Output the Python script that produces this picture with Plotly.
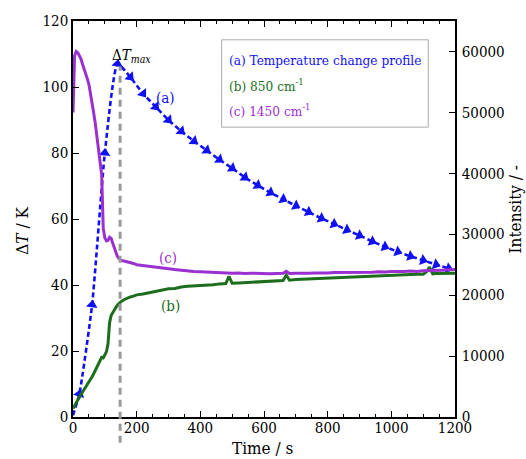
import plotly.graph_objects as go

# (a) temperature change profile, one marker every 40 s
time_a = [0, 20, 60, 100, 140, 180, 220, 260, 300, 340, 380, 420, 460, 500, 540,
          580, 620, 660, 700, 740, 780, 820, 860, 900, 940, 980, 1020, 1060, 1100,
          1140, 1180]
delta_t = [0.5, 7, 34, 80, 107, 103, 98, 94, 90, 86.6, 83.6, 80.8, 78, 75.4, 72.6,
           70.2, 68, 66, 64, 62.1, 60.2, 58.5, 56.7, 55, 53.2, 51.6, 50.1, 48.7, 47.5,
           46.2, 45]

# Raman band intensities (b) 850 cm-1 and (c) 1450 cm-1
time_b_c = [0, 5, 10, 15, 20, 25, 30, 35, 40, 45,
            50, 55, 60, 65, 70, 75, 80, 85, 90, 95,
            100, 105, 110, 115, 120, 125, 130, 135, 140, 145,
            150, 160, 170, 180, 190, 200, 220, 240, 260, 280,
            300, 320, 340, 360, 380, 400, 420, 440, 460, 480,
            490, 500, 520, 540, 560, 580, 600, 620, 640, 660,
            670, 680, 700, 720, 740, 760, 780, 800, 820, 840,
            860, 880, 900, 920, 940, 960, 980, 1000, 1020, 1040,
            1060, 1080, 1100, 1110, 1120, 1130, 1140, 1160, 1180, 1200]
intensity_1450 = [50000, 59300, 60000, 59800, 59300, 58800, 57900, 57200, 56400, 55500,
                  54600, 53200, 51600, 49900, 48200, 46100, 43900, 41900, 39800, 31000,
                  29400, 28900, 29000, 29500, 29300, 28500, 27900, 27000, 26300, 25900,
                  25700, 25600, 25500, 25400, 25200, 25000, 24850, 24750, 24650, 24500,
                  24350, 24200, 24100, 23950, 23900, 23850, 23800, 23700, 23750, 23650,
                  23700, 23600, 23650, 23550, 23600, 23550, 23600, 23500, 23550, 23600,
                  23900, 23550, 23600, 23550, 23600, 23650, 23600, 23650, 23700, 23700,
                  23750, 23700, 23800, 23800, 23750, 23850, 23800, 23900, 23850, 23900,
                  23950, 23900, 24000, 24000, 24050, 24000, 24100, 24100, 24150, 24200]
intensity_850 = [1400, 1900, 2400, 2900, 3300, 3700, 4100, 4500, 4900, 5200,
                 5700, 6100, 6600, 7100, 7700, 8200, 8700, 9300, 9800, 9700,
                 10100, 10700, 12000, 15500, 16700, 17200, 17600, 18000, 18400, 18700,
                 18900, 19250, 19500, 19700, 19850, 20050, 20200, 20400, 20700, 20800,
                 21050, 21100, 21350, 21450, 21500, 21550, 21650, 21700, 21850, 21900,
                 23100, 21950, 22000, 22050, 22100, 22150, 22250, 22300, 22350, 22400,
                 23300, 22450, 22550, 22600, 22650, 22700, 22750, 22800, 22850, 22900,
                 22950, 23000, 23000, 23100, 23150, 23200, 23250, 23350, 23300, 23350,
                 23400, 23450, 23450, 23800, 24600, 23500, 23550, 23600, 23650, 23600]

t_max_time = 148  # time of maximum temperature rise

BLUE = "#1010F5"
GREEN = "#1C6E1C"
PURPLE = "#9B30D0"
SERIF = "DejaVu Serif Condensed, DejaVu Serif"

fig = go.Figure()

fig.add_trace(go.Scatter(
    x=time_b_c, y=intensity_850, yaxis="y2", mode="lines",
    line=dict(color=GREEN, width=3), showlegend=False))
fig.add_trace(go.Scatter(
    x=time_b_c, y=intensity_1450, yaxis="y2", mode="lines",
    line=dict(color=PURPLE, width=3), showlegend=False))
fig.add_trace(go.Scatter(
    x=time_a, y=delta_t, mode="lines+markers",
    line=dict(color=BLUE, width=2.6, dash="5px,3px", shape="spline", smoothing=0.5),
    marker=dict(symbol="triangle-up", size=10, color=BLUE, angleref="previous"),
    showlegend=False))

# vertical marker at the temperature maximum, running below the time axis
fig.add_shape(type="line", xref="x", yref="paper",
              x0=t_max_time, x1=t_max_time, y0=-0.065, y1=0.885,
              line=dict(color="#9A9A9A", width=3, dash="7px,5px"), layer="above")

# legend box
fig.add_shape(type="rect", xref="paper", yref="paper",
              x0=0.389, x1=0.930, y0=0.732, y1=0.9525,
              line=dict(color="#AAAAAA", width=1), fillcolor="white", layer="below")

legend_rows = [
    ("(a) Temperature change profile", BLUE, 0.9008),
    ("(b) 850 cm<sup>-1</sup>", GREEN, 0.8383),
    ("(c) 1450 cm<sup>-1</sup>", PURPLE, 0.7758),
]
for text, color, ypos in legend_rows:
    fig.add_annotation(xref="paper", yref="paper", x=0.402, y=ypos,
                       xanchor="left", yanchor="middle", text=text, showarrow=False,
                       font=dict(family=SERIF, size=13.5, color=color))

# curve labels
for text, color, xv, yv in [("(a)", BLUE, 289, 96.6), ("(c)", PURPLE, 299, 48.3),
                            ("(b)", GREEN, 305, 33.6)]:
    fig.add_annotation(x=xv, y=yv, text=text, showarrow=False,
                       xanchor="center", yanchor="middle",
                       font=dict(family=SERIF, size=15, color=color))

fig.add_annotation(x=115, y=109.6, xanchor="left", yanchor="middle",
                   text="Δ<i>T</i><sub><i>max</i></sub>", showarrow=False,
                   font=dict(family=SERIF, size=15, color="black"))

# axis titles
fig.add_annotation(xref="paper", yref="paper", x=0.497, y=-0.078,
                   xanchor="center", yanchor="middle",
                   text="Time / s", showarrow=False,
                   font=dict(family=SERIF, size=17, color="black"))
fig.add_annotation(xref="paper", yref="paper", x=-0.134, y=0.47, textangle=-90,
                   xanchor="center", yanchor="middle",
                   text="Δ<i>T</i> / K", showarrow=False,
                   font=dict(family=SERIF, size=17, color="black"))
fig.add_annotation(xref="paper", yref="paper", x=1.158, y=0.525, textangle=-90,
                   xanchor="center", yanchor="middle",
                   text="Intensity / -", showarrow=False,
                   font=dict(family=SERIF, size=17, color="black"))

tick_font = dict(family=SERIF, size=15, color="black")
fig.update_layout(
    width=526, height=459,
    margin=dict(l=73, r=71, t=17, b=42),
    paper_bgcolor="white", plot_bgcolor="white",
    xaxis=dict(range=[0, 1200], tick0=0, dtick=200, ticks="inside", ticklen=6,
               tickwidth=1.3, tickcolor="black", ticklabelstandoff=-4,
               minor=dict(ticks="inside", dtick=50, ticklen=3, tickcolor="black",
                          tickwidth=1.2),
               showline=True, linecolor="black", linewidth=1.5, mirror="ticks",
               showgrid=False, zeroline=False, tickfont=tick_font),
    yaxis=dict(range=[0, 120], dtick=20, ticks="inside", ticklen=6, tickwidth=1.3,
               tickcolor="black", showline=True, linecolor="black", linewidth=1.5,
               showgrid=False, zeroline=False, tickfont=tick_font),
    yaxis2=dict(range=[0, 65000], dtick=10000, tickformat="d", overlaying="y",
                side="right", ticks="inside", ticklen=6, tickwidth=1.3,
                tickcolor="black", ticklabelstandoff=2, showline=True,
                linecolor="black", linewidth=1.5,
                showgrid=False, zeroline=False, tickfont=tick_font),
)

fig.write_html("out.html")
